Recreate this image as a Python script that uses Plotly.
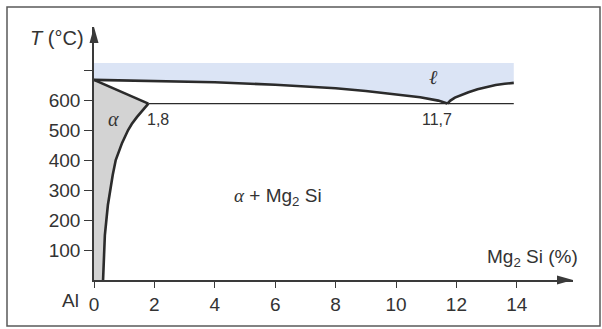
import plotly.graph_objects as go

# Al–Mg2Si pseudo-binary phase diagram (schematic)
x_ticks = [0, 2, 4, 6, 8, 10, 12, 14]
y_ticks = [100, 200, 300, 400, 500, 600]
y_minor_ticks = [700]

# liquidus, left branch (Al side) down to the eutectic point
liq_left_x = [0, 2, 4, 6, 8, 9, 10, 10.8, 11.4, 11.7]
liq_left_T = [667, 664, 659, 651, 639, 630, 619, 609, 598, 588]
# liquidus, right branch (Mg2Si side)
liq_right_x = [11.7, 11.8, 11.95, 12.15, 12.4, 12.7, 13.0, 13.3, 13.6, 13.9]
liq_right_T = [588, 598, 608, 617, 626, 636, 644, 650, 654, 657]
# solidus of the alpha solid solution
solidus_x = [0, 1.8]
solidus_T = [667, 588]
# solvus of the alpha solid solution
solvus_x = [1.8, 1.6, 1.42, 1.25, 1.13, 0.93, 0.82, 0.72, 0.62, 0.53, 0.46, 0.41, 0.36, 0.34, 0.31, 0.3]
solvus_T = [588, 566, 543, 520, 500, 457, 430, 400, 350, 300, 250, 200, 150, 100, 40, 0]
# eutectic isotherm
eut_x = [1.8, 13.9]
eut_T = [588, 588]
liquid_top_T = 723

W, H = 602, 329
L, R, T, B = 94, 29, 27, 49
PW, PH = W - L - R, H - T - B
X_MAX = PW / 30.2
Y_MAX = PH / 0.3


def px(xp):
    return (xp - L) / PW


def py(yp):
    return (H - B - yp) / PH


LINE = "#2b2b2b"
AX = "#3a3a3a"
TXT = "#333333"
SANS = "Liberation Sans, Arial"
SERIF = "Liberation Serif, DejaVu Serif"

fig = go.Figure()

# liquid region (light blue band above the liquidus)
band_x = [0, liq_right_x[-1]] + liq_right_x[::-1] + liq_left_x[::-1]
band_T = [liquid_top_T, liquid_top_T] + liq_right_T[::-1] + liq_left_T[::-1]
fig.add_trace(go.Scatter(x=band_x, y=band_T, fill="toself", fillcolor="#dbe4f5",
                         line=dict(width=0), mode="lines", hoverinfo="skip"))

# alpha solid-solution region (grey)
alpha_x = [0] + solidus_x + solvus_x[1:] + [0]
alpha_T = [0] + solidus_T + solvus_T[1:] + [0]
fig.add_trace(go.Scatter(x=alpha_x, y=alpha_T, fill="toself", fillcolor="#d3d3d3",
                         line=dict(width=0), mode="lines", hoverinfo="skip"))

# eutectic isotherm
fig.add_trace(go.Scatter(x=eut_x, y=eut_T, mode="lines",
                         line=dict(color=LINE, width=1.3), hoverinfo="skip"))

# phase boundaries
for xs, ts in [(liq_left_x, liq_left_T), (liq_right_x, liq_right_T),
               (solidus_x, solidus_T), (solvus_x, solvus_T)]:
    fig.add_trace(go.Scatter(x=xs, y=ts, mode="lines",
                             line=dict(color=LINE, width=2.6), hoverinfo="skip"))

axis_common = dict(showline=True, linecolor=AX, linewidth=1.5, ticks="outside",
                   tickwidth=1.3, tickcolor=AX, showgrid=False, zeroline=False,
                   tickfont=dict(family=SANS, size=19, color=TXT),
                   fixedrange=True)

fig.update_layout(
    width=W, height=H, margin=dict(l=L, r=R, t=T, b=B),
    paper_bgcolor="white", plot_bgcolor="rgba(0,0,0,0)", showlegend=False,
    xaxis=dict(range=[0, X_MAX], tickvals=x_ticks, ticklen=6, **axis_common),
    yaxis=dict(range=[0, Y_MAX], tickvals=y_ticks, ticklen=8,
               minor=dict(tickvals=y_minor_ticks, ticks="outside", ticklen=8,
                          tickwidth=1.3, tickcolor=AX, showgrid=False),
               **axis_common),
)

shapes = []
# arrow heads on the axes
shapes.append(dict(type="path", xref="paper", yref="paper",
                   path=f"M {px(557)} {py(275.5)} L {px(573)} {py(280)} L {px(557)} {py(284.5)} Z",
                   fillcolor=AX, line=dict(width=0)))
shapes.append(dict(type="path", xref="paper", yref="paper",
                   path=f"M {px(89.5)} {py(43)} L {px(94)} {py(27)} L {px(98.5)} {py(43)} Z",
                   fillcolor=AX, line=dict(width=0)))
# frame
shapes.append(dict(type="rect", xref="paper", yref="paper",
                   x0=px(7), x1=px(600), y0=py(326), y1=py(7),
                   line=dict(color="#5a5a5a", width=1.5)))
fig.update_layout(shapes=shapes)


def label(text, xp, yp, size=17, family=SANS, xanchor="center"):
    fig.add_annotation(text=text, x=px(xp), y=py(yp), xref="paper", yref="paper",
                       showarrow=False, xanchor=xanchor, yanchor="middle",
                       font=dict(family=family, size=size, color=TXT))


label("<i>T</i> (°C)", 86, 38, size=20, xanchor="right")
label("Al", 70, 300, size=19)
label("<i>α</i>", 113, 119, size=20, family=SERIF)
label("1,8", 158, 119, size=16)
label("11,7", 437, 119, size=16)
label("<i>ℓ</i>", 433, 77, size=20, family=SERIF)
label('<span style="font-family:Liberation Serif"><i>α</i></span> + Mg<sub>2</sub> Si',
      278, 197, size=19)
label("Mg<sub>2</sub> Si (%)", 580, 258, size=19, xanchor="right")

fig.write_html("out.html")
